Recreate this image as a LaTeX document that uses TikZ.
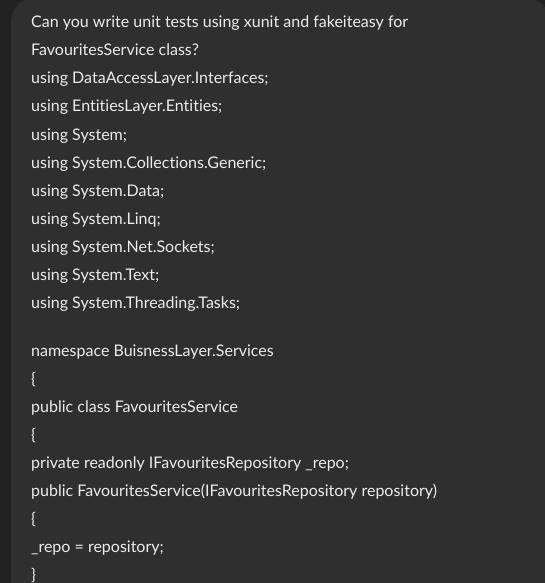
\documentclass[tikz,border=0pt]{standalone}
\usepackage{fontspec}
\setmainfont{Lato}[Ligatures={NoCommon}]
\usepackage{tikz}
\definecolor{pagebg}{HTML}{212121}
\definecolor{bubblebg}{HTML}{2F2F2F}
\definecolor{msgtext}{HTML}{ECECEC}
\tikzset{msgline/.style={anchor=base west, inner sep=0pt, text=msgtext, font=\fontsize{16}{18}\selectfont}}

\begin{document}
\begin{tikzpicture}[x=1pt, y=-1pt]
 \fill[pagebg] (0,0) rectangle (545,583);
 \useasboundingbox (0,0) rectangle (545,583);
 \fill[bubblebg, rounded corners=24pt] (11,-2) rectangle (550,620);
 \node[msgline] (ask1) at (31,28)  {Can you write unit tests using xunit and fakeiteasy for};
 \node[msgline] (ask2) at (31,56)  {FavouritesService class?};
 \node[msgline] (use1) at (31,84)  {using DataAccessLayer.Interfaces;};
 \node[msgline] (use2) at (31,112) {using EntitiesLayer.Entities;};
 \node[msgline] (use3) at (31,140) {using System;};
 \node[msgline] (use4) at (31,168) {using System.Collections.Generic;};
 \node[msgline] (use5) at (31,196) {using System.Data;};
 \node[msgline] (use6) at (31,224) {using System.Linq;};
 \node[msgline] (use7) at (31,252) {using System.Net.Sockets;};
 \node[msgline] (use8) at (31,280) {using System.Text;};
 \node[msgline] (use9) at (31,308) {using System.Threading.Tasks;};
 \node[msgline] (ns)   at (31,356) {namespace BuisnessLayer.Services};
 \node[msgline] (nsopen) at (31,384) {\{};
 \node[msgline] (cls)  at (31,412) {public class FavouritesService};
 \node[msgline] (clsopen) at (31,440) {\{};
 \node[msgline] (fld)  at (31,468) {private readonly IFavouritesRepository \_repo;};
 \node[msgline] (ctor) at (31,496) {public FavouritesService(IFavouritesRepository repository)};
 \node[msgline] (ctoropen) at (31,524) {\{};
 \node[msgline] (asgn) at (31,552) {\_repo = repository;};
 \node[msgline] (ctorclose) at (31,580) {\}};
\end{tikzpicture}
\end{document}
